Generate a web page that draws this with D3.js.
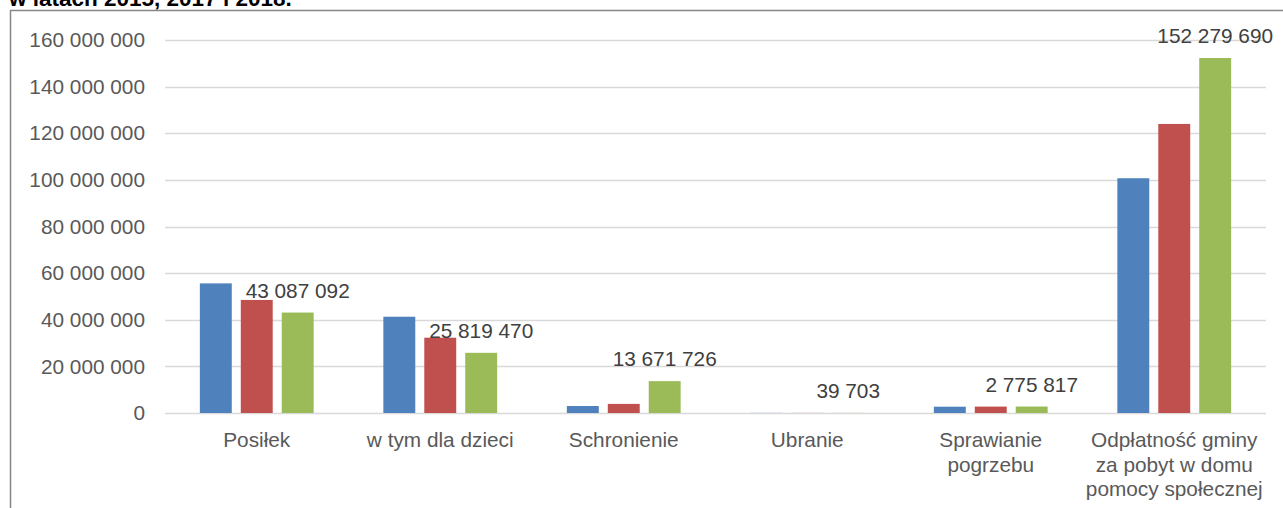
<!DOCTYPE html>
<html>
<head>
<meta charset="utf-8">
<script src="https://cdn.jsdelivr.net/npm/d3@7"></script>
<style>
  body { margin: 0; background: #fff; }
  svg { display: block; font-family: "Liberation Sans", Arial, sans-serif; }
</style>
</head>
<body>
<div id="chart"></div>
<script>
// categories and values (PLN), three years
var categories = ["Posiłek", "w tym dla dzieci", "Schronienie", "Ubranie", "Sprawianie pogrzebu", "Odpłatność gminy za pobyt w domu pomocy społecznej"];
var catLines = [["Posiłek"], ["w tym dla dzieci"], ["Schronienie"], ["Ubranie"], ["Sprawianie", "pogrzebu"], ["Odpłatność gminy", "za pobyt w domu", "pomocy społecznej"]];
var years = ["2015", "2017", "2018"];
var values2015 = [55600000, 41300000, 3000000, 50000, 2700000, 100700000];
var values2017 = [48500000, 32300000, 3900000, 45000, 2750000, 124000000];
var values2018 = [43087092, 25819470, 13671726, 39703, 2775817, 152279690];
var yTicks = [0, 20000000, 40000000, 60000000, 80000000, 100000000, 120000000, 140000000, 160000000];
var colors = ["#4F81BD", "#C0504D", "#9BBB59"];
var title = "w latach 2015, 2017 i 2018.";

var W = 1283, H = 508;
var margin = {top: 40, left: 165, right: 17, bottom: 95};
var w = W - margin.left - margin.right,
    h = 413 - margin.top;
var fs = 20.8;

var fmt = function(v) {
  return String(v).replace(/\B(?=(\d{3})+(?!\d))/g, " ");
};

var svg = d3.select("#chart").append("svg")
  .attr("width", W)
  .attr("height", H);

// title (cut off at top)
svg.append("text")
  .attr("x", 9)
  .attr("y", 6)
  .attr("font-size", 22.5)
  .attr("font-weight", "bold")
  .attr("fill", "#000")
  .text(title);

// chart border
svg.append("path")
  .attr("d", "M10.5," + (H + 5) + "V10.5H" + (W + 5))
  .attr("fill", "none")
  .attr("stroke", "#868686")
  .attr("stroke-width", 1.5);

var g = svg.append("g")
  .attr("transform", "translate(" + margin.left + "," + margin.top + ")");

var x0 = d3.scaleBand().domain(categories).range([0, w]);
var x1 = d3.scaleBand().domain(years).range([0, 122]).paddingInner(0.22).paddingOuter(0.1);
var y = d3.scaleLinear().domain([0, 160000000]).range([h, 0]);

// gridlines
g.selectAll("line.grid")
  .data(yTicks)
  .enter().append("line")
  .attr("class", "grid")
  .attr("x1", 0)
  .attr("x2", w)
  .attr("y1", function(d) { return Math.round(y(d)) + 0.5; })
  .attr("y2", function(d) { return Math.round(y(d)) + 0.5; })
  .attr("stroke", "#d9d9d9")
  .attr("stroke-width", 1.5);

// y axis labels
var yAxis = g.append("g")
  .call(d3.axisLeft(y).tickValues(yTicks).tickFormat(fmt).tickSize(0).tickPadding(20));
yAxis.select(".domain").remove();
yAxis.selectAll("text")
  .attr("font-size", fs)
  .attr("fill", "#595959")
  .attr("font-family", "Liberation Sans, Arial, sans-serif");

var series = [values2015, values2017, values2018];
var groups = g.selectAll("g.cat")
  .data(categories)
  .enter().append("g")
  .attr("class", "cat")
  .attr("transform", function(c) {
    return "translate(" + (x0(c) + x0.bandwidth() / 2 - 61) + ",0)";
  });

groups.selectAll("rect")
  .data(function(c, i) {
    return years.map(function(yr, j) { return {year: yr, v: series[j][i], j: j}; });
  })
  .enter().append("rect")
  .attr("x", function(d) { return x1(d.year); })
  .attr("width", x1.bandwidth())
  .attr("y", function(d) { return y(d.v); })
  .attr("height", function(d) { return h - y(d.v); })
  .attr("fill", function(d) { return colors[d.j]; });

// data labels for 2018
groups.append("text")
  .attr("x", x1("2018") + x1.bandwidth() / 2)
  .attr("y", function(c, i) { return y(values2018[i]) - 15; })
  .attr("text-anchor", "middle")
  .attr("font-size", fs)
  .attr("fill", "#404040")
  .text(function(c, i) { return fmt(values2018[i]); });

// category labels
var catText = g.selectAll("text.cat")
  .data(catLines)
  .enter().append("text")
  .attr("class", "cat")
  .attr("x", function(d, i) { return x0(categories[i]) + x0.bandwidth() / 2; })
  .attr("y", h + 34)
  .attr("text-anchor", "middle")
  .attr("font-size", fs)
  .attr("fill", "#595959");

catText.selectAll("tspan")
  .data(function(d) { return d; })
  .enter().append("tspan")
  .attr("x", function() { return d3.select(this.parentNode).attr("x"); })
  .attr("dy", function(d, i) { return i === 0 ? 0 : 24.5; })
  .text(function(d) { return d; });
</script>
</body>
</html>
